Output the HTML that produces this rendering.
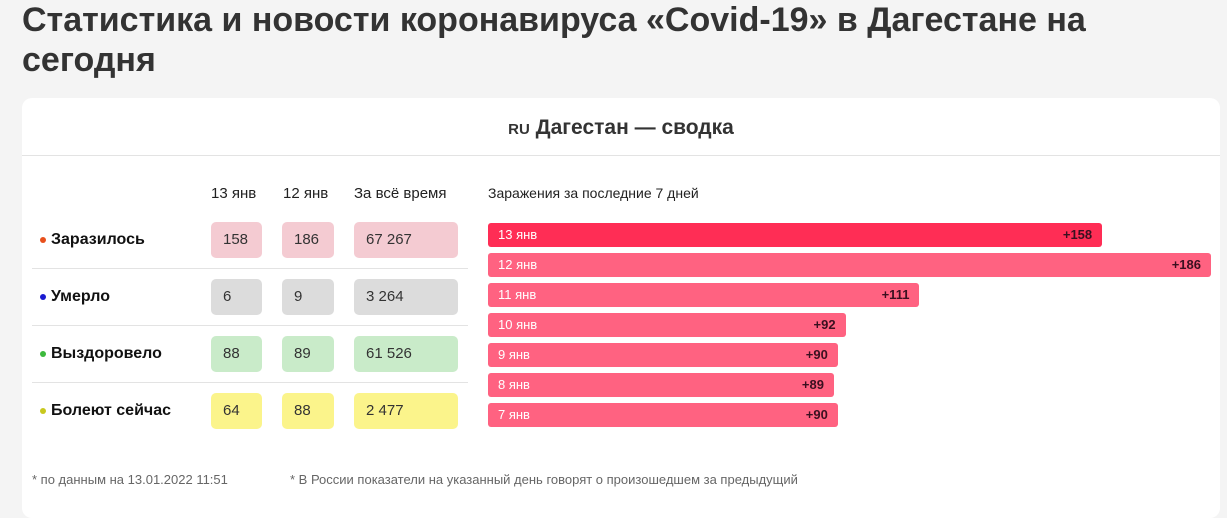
<!DOCTYPE html>
<html><head><meta charset="utf-8"><style>
body{margin:0;width:1227px;height:501px;background:#f4f4f4;font-family:"Liberation Sans",sans-serif;overflow:hidden;position:relative;color:#222}
.abs{position:absolute}
h1{position:absolute;left:22px;top:0;margin:0;font-size:34px;line-height:40px;font-weight:bold;color:#333;width:1200px}
.card{position:absolute;left:22px;top:98px;width:1198px;height:420px;background:#fff;border-radius:10px}
.hdr{position:absolute;left:22px;top:155px;width:1198px;border-top:1px solid #e3e3e3}
.ct{font-size:15px;color:#222}
.lbl{font-size:16px;font-weight:bold;color:#111}
.dot{display:inline-block;width:6px;height:6px;border-radius:50%;margin-right:5px;vertical-align:middle}
.box{position:absolute;height:36px;border-radius:5px;font-size:15px;line-height:36px;padding-left:12px;box-sizing:border-box;color:#333}
.sep{position:absolute;left:32px;width:436px;border-top:1px solid #e3e3e3}
.bar{position:absolute;height:24px;border-radius:3px;background:#ff6281;color:#fff;font-size:13px;line-height:24px}
.bar span{position:absolute;left:10px}
.bar b{position:absolute;right:10px;color:#3a1020;font-size:13px}
.fn{font-size:13px;color:#666;top:472px}
</style></head><body>
<h1>Статистика и новости коронавируса «Covid-19» в Дагестане на сегодня</h1>
<div class="card"></div>
<div class="abs" style="left:0;width:1242px;top:116px;text-align:center;font-size:21px;font-weight:bold;color:#333"><span style="font-size:15px">RU</span> Дагестан — сводка</div>
<div class="hdr"></div>
<div class="abs ct" style="left:211px;top:185px">13 янв</div>
<div class="abs ct" style="left:283px;top:185px">12 янв</div>
<div class="abs ct" style="left:354px;top:185px">За всё время</div>
<div class="abs ct" style="left:488px;top:185px;font-size:14px">Заражения за последние 7 дней</div>

<div class="abs lbl" style="left:40px;top:231px"><span class="dot" style="background:#e8501c"></span>Заразилось</div>
<div class="abs lbl" style="left:40px;top:288px"><span class="dot" style="background:#1a1ad0"></span>Умерло</div>
<div class="abs lbl" style="left:40px;top:345px"><span class="dot" style="background:#3cb93c"></span>Выздоровело</div>
<div class="abs lbl" style="left:40px;top:402px"><span class="dot" style="background:#c8c81e"></span>Болеют сейчас</div>
<div class="sep" style="top:268px"></div><div class="sep" style="top:325px"></div><div class="sep" style="top:382px"></div>

<div class="box" style="left:211px;top:222px;width:51px;background:#f4cbd2">158</div>
<div class="box" style="left:282px;top:222px;width:52px;background:#f4cbd2">186</div>
<div class="box" style="left:354px;top:222px;width:104px;background:#f4cbd2">67 267</div>
<div class="box" style="left:211px;top:279px;width:51px;background:#dcdcdc">6</div>
<div class="box" style="left:282px;top:279px;width:52px;background:#dcdcdc">9</div>
<div class="box" style="left:354px;top:279px;width:104px;background:#dcdcdc">3 264</div>
<div class="box" style="left:211px;top:336px;width:51px;background:#c9ebc9">88</div>
<div class="box" style="left:282px;top:336px;width:52px;background:#c9ebc9">89</div>
<div class="box" style="left:354px;top:336px;width:104px;background:#c9ebc9">61 526</div>
<div class="box" style="left:211px;top:393px;width:51px;background:#fbf48b">64</div>
<div class="box" style="left:282px;top:393px;width:52px;background:#fbf48b">88</div>
<div class="box" style="left:354px;top:393px;width:104px;background:#fbf48b">2 477</div>

<div id="chart"></div>

<div class="abs fn" style="left:32px">* по данным на 13.01.2022 11:51</div>
<div class="abs fn" style="left:290px">* В России показатели на указанный день говорят о произошедшем за предыдущий</div>
<script>
const days=["13 янв","12 янв","11 янв","10 янв","9 янв","8 янв","7 янв"];
const cases=[158,186,111,92,90,89,90];
const x0=488,xMax=1211,y0=223,step=30;
const maxV=Math.max(...cases);
function xs(v){return v/maxV*(xMax-x0);}
function ys(i){return y0+i*step;}
const chart=document.getElementById('chart');
days.forEach((d,i)=>{
  const b=document.createElement('div');
  
  
  b.className='bar';
  b.style.left=x0+'px';b.style.top=ys(i)+'px';b.style.width=xs(cases[i])+'px';
  if(i===0)b.style.background='#ff2d55';
  b.innerHTML='<span>'+d+'</span><b>+'+cases[i]+'</b>';
  chart.appendChild(b);
});
</script>
</body></html>
